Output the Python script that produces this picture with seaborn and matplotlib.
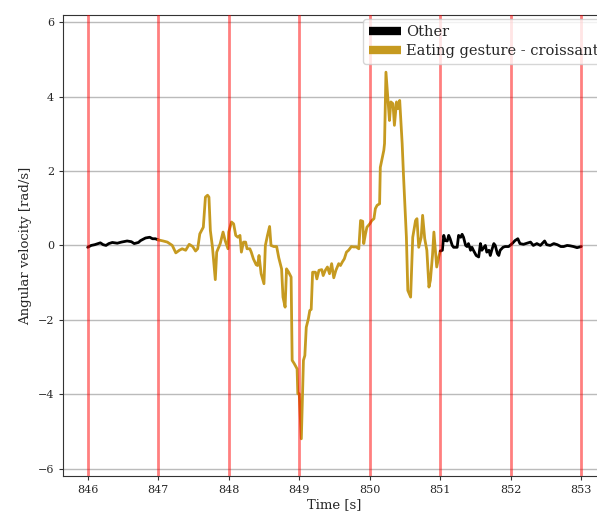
import numpy as np
import pandas as pd
import matplotlib
matplotlib.use("Agg")
import matplotlib.pyplot as plt
import seaborn as sns
from matplotlib.lines import Line2D

sns.set_style("ticks")
plt.rcParams["font.family"] = ["DejaVu Serif"]

# labels per segment
other_color = "black"
gesture_color = "#c69a20"

# first "Other" part
other1_t = [846.0, 846.05, 846.1, 846.18, 846.22, 846.26, 846.3, 846.35, 846.42, 846.48,
            846.56, 846.62, 846.66, 846.72, 846.75, 846.82, 846.88, 846.92, 846.96, 847.0]
other1_v = [-0.05, 0.0, 0.02, 0.07, 0.02, 0.0, 0.05, 0.08, 0.06, 0.09,
            0.12, 0.1, 0.05, 0.08, 0.13, 0.2, 0.22, 0.18, 0.18, 0.15]

# eating gesture part
gesture_t = [847.0, 847.07, 847.13, 847.2, 847.25, 847.3, 847.34, 847.39, 847.44, 847.49,
             847.53, 847.56, 847.59, 847.64, 847.67, 847.7, 847.72, 847.74, 847.77, 847.81,
             847.83, 847.88, 847.92, 847.95, 847.99, 848.0, 848.04, 848.07, 848.1, 848.13,
             848.16, 848.18, 848.21, 848.24, 848.26, 848.3, 848.32, 848.35, 848.39, 848.41,
             848.43, 848.46, 848.5, 848.52, 848.55, 848.58, 848.6, 848.64, 848.68, 848.71,
             848.75, 848.77, 848.8, 848.82, 848.85, 848.885, 848.9, 848.93, 848.97, 848.98,
             849.0, 849.03, 849.06, 849.08, 849.1, 849.13, 849.15, 849.17, 849.19, 849.23,
             849.25, 849.28, 849.32, 849.34, 849.37, 849.4, 849.43, 849.46, 849.49, 849.52,
             849.56, 849.585, 849.61, 849.64, 849.67, 849.7, 849.74, 849.77, 849.81, 849.845,
             849.87, 849.9, 849.915, 849.94, 849.96, 850.0, 850.03, 850.06, 850.08, 850.105,
             850.14, 850.15, 850.18, 850.2, 850.21, 850.23, 850.255, 850.28, 850.3, 850.33,
             850.35, 850.38, 850.4, 850.425, 850.46, 850.48, 850.52, 850.54, 850.58, 850.61,
             850.65, 850.67, 850.695, 850.73, 850.75, 850.78, 850.81, 850.84, 850.86, 850.89,
             850.91, 850.95, 850.98, 851.0]
gesture_v = [0.15, 0.12, 0.09, 0.0, -0.2, -0.13, -0.09, -0.13, 0.03, -0.03,
             -0.15, -0.09, 0.31, 0.49, 1.3, 1.35, 1.3, 0.4, -0.05, -0.92,
             -0.18, 0.05, 0.36, 0.13, -0.09, 0.36, 0.63, 0.58, 0.27, 0.22,
             0.27, -0.18, 0.09, 0.09, -0.09, -0.09, -0.18, -0.36, -0.52, -0.54,
             -0.27, -0.76, -1.03, 0.0, 0.27, 0.51, 0.0, -0.03, -0.03, -0.33,
             -0.63, -1.39, -1.66, -0.63, -0.72, -0.85, -3.09, -3.18, -3.32, -3.99,
             -3.99, -5.2, -3.09, -2.96, -2.2, -1.97, -1.75, -1.72, -0.72, -0.72,
             -0.9, -0.67, -0.65, -0.81, -0.67, -0.58, -0.76, -0.49, -0.87, -0.67,
             -0.49, -0.54, -0.45, -0.36, -0.18, -0.13, -0.03, -0.04, -0.04, -0.09,
             0.67, 0.65, 0.05, 0.31, 0.49, 0.58, 0.67, 0.72, 0.99, 1.08,
             1.12, 2.1, 2.38, 2.56, 2.74, 4.66, 3.99, 3.36, 3.86, 3.81,
             3.23, 3.86, 3.68, 3.9, 2.74, 1.84, 0.22, -1.21, -1.39, 0.22,
             0.67, 0.72, -0.05, 0.22, 0.81, 0.18, -0.13, -1.12, -0.94, -0.27,
             0.36, -0.58, -0.3, -0.15]

# second "Other" part
other2_t = [851.0, 851.03, 851.05, 851.07, 851.1, 851.12, 851.14, 851.17, 851.19, 851.24,
            851.26, 851.29, 851.31, 851.33, 851.36, 851.38, 851.4, 851.43, 851.45, 851.47,
            851.51, 851.545, 851.57, 851.59, 851.62, 851.64, 851.66, 851.69, 851.71, 851.73,
            851.76, 851.78, 851.81, 851.83, 851.85, 851.89, 851.92, 851.97, 852.02, 852.06,
            852.1, 852.13, 852.18, 852.23, 852.28, 852.32, 852.37, 852.42, 852.48, 852.51,
            852.56, 852.61, 852.66, 852.71, 852.75, 852.8, 852.84, 852.89, 852.94, 853.0]
other2_v = [-0.15, -0.13, 0.27, 0.13, 0.12, 0.27, 0.18, 0.0, -0.05, -0.05,
            0.27, 0.22, 0.3, 0.22, 0.0, -0.03, 0.05, -0.13, -0.05, -0.13,
            -0.27, -0.31, 0.05, -0.13, -0.05, 0.0, -0.18, -0.13, -0.27, -0.13,
            0.05, 0.0, -0.22, -0.27, -0.13, -0.05, -0.03, -0.03, 0.05, 0.13,
            0.18, 0.05, 0.03, 0.06, 0.09, 0.0, 0.05, 0.0, 0.12, 0.02,
            0.0, 0.05, 0.02, -0.03, -0.03, 0.0, -0.01, -0.03, -0.06, -0.03]

second_marks = [846, 847, 848, 849, 850, 851, 852, 853]

fig = plt.figure(figsize=(5.97, 5.14), dpi=100)
ax = fig.add_axes([0.1055, 0.074, 0.9095, 0.897])

segments = [(other1_t, other1_v, other_color),
            (gesture_t, gesture_v, gesture_color),
            (other2_t, other2_v, other_color)]
for t, v, c in segments:
    seg = pd.DataFrame({"t": t, "v": v})
    sns.lineplot(data=seg, x="t", y="v", color=c, linewidth=2, ax=ax,
                 estimator=None, sort=False, zorder=2)

for s in second_marks:
    ax.axvline(s, color="red", alpha=0.5, linewidth=2, zorder=3)

ax.set_xlim(845.65, 853.35)
ax.set_ylim(-6.2, 6.2)
ax.set_yticks([-6, -4, -2, 0, 2, 4, 6])
ax.set_xticks(second_marks)
ax.yaxis.grid(True, color="#bbbbbb", linewidth=1)
ax.xaxis.grid(False)
ax.set_axisbelow(True)
for sp in ["left", "bottom", "top"]:
    ax.spines[sp].set_color("#333333")
    ax.spines[sp].set_visible(True)
ax.tick_params(labelsize=8, length=3, color="#333333")

ax.set_xlabel("Time [s]", fontsize=9.5, labelpad=2)
ax.set_ylabel("Angular velocity [rad/s]", fontsize=9.5)

handles = [Line2D([], [], color=other_color, linewidth=6, solid_capstyle="butt"),
           Line2D([], [], color=gesture_color, linewidth=6, solid_capstyle="butt")]
ax.legend(handles, ["Other", "Eating gesture - croissant"], loc="upper right",
          bbox_to_anchor=(1.005, 1.0), fontsize=10.5, frameon=True,
          handlelength=2.2, handletextpad=0.35, labelspacing=0.35,
          borderaxespad=0.3)

fig.savefig("out.png", dpi=100)
